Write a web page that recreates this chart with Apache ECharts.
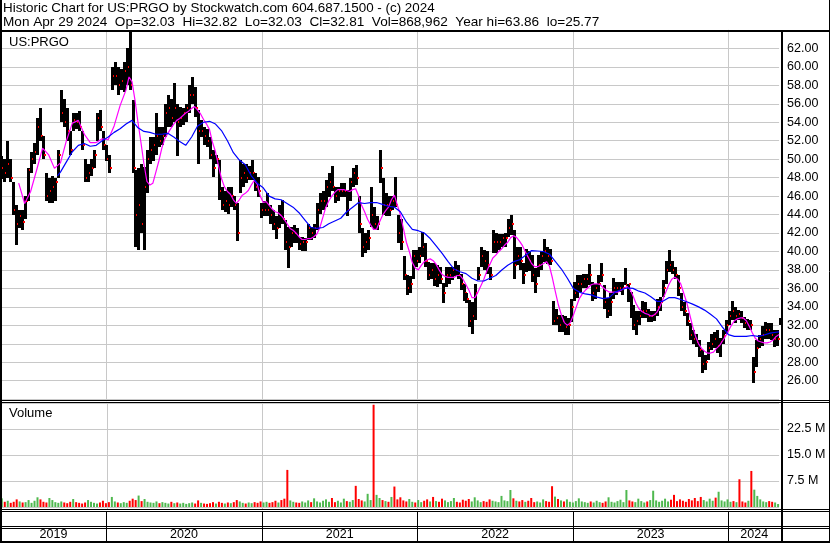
<!DOCTYPE html>
<html><head><meta charset="utf-8">
<script src="https://cdn.jsdelivr.net/npm/echarts@6/dist/echarts.min.js"></script>
<style>html,body{margin:0;padding:0;background:#fff}#c{width:830px;height:543px}</style>
</head><body><div id="c"></div>
<script>
// ---- data (weekly bars, week 0 = 2019-04-29) ----
const firstWeek = '2019-04-29';
const lastDay = '2024-04-29';
const highs = [
50.3,50,52,50,47.5,45,44.5,44.5,46,49,
50.8,51.7,54.5,55.5,52.5,48.5,48,48.2,48,51,
57.5,56.5,55.5,53,55,55,55.2,53,50,49.5,
50,51,55,55.3,53,51.5,50.5,60,60.5,60,
59.8,60.5,62,63.86,56.4,48.8,49,49.5,49.2,51,
52.4,52.4,55,53.5,53.5,56,57,56.5,58.2,56,
55.7,55.5,56,58,58.9,57.8,55.3,54.2,53.5,53.3,
52.4,51,50.5,49.9,47,46.5,47,47,46,45.2,
49.9,49.5,49.5,49.3,49.9,48.5,48.1,45.2,45.5,46.3,
45,44.5,43.8,45,45.6,43.4,42.7,42.7,42.9,42.5,
41.6,41.6,41.5,43,42.7,43,45.2,46.3,46.5,47.7,
48.5,49.3,47,47,47.4,47.4,46.7,48,49,49.4,
46,42.5,42,42.3,47,44.8,43.8,51,48,46.3,
46,46,48.1,44,43.5,39.5,37.5,37.3,40.2,40.2,
40.5,42.1,40.9,38.9,38.7,38.7,38.5,38.3,36.6,38.3,
38.3,38.3,39,38.5,37.6,36.5,35.5,34.7,34.5,36.5,
38.3,40.5,40.2,40,38.3,42.3,42,41.9,41.9,42,
43.5,43.9,42.3,40.5,40.5,38.7,40.3,40,39.6,38.2,
39.6,40,41.4,40.5,40.3,34.6,33.8,33.1,33.1,33,
32.8,34.9,36.7,37.4,37.4,37.6,37.6,38.6,36.7,36.5,
37.4,38.7,36.4,35,35.5,37.1,36.7,36.7,36.7,38.2,
36.5,35.6,34.2,33.5,33.5,34.6,34.5,33.8,33.5,33.5,
34.8,35.1,36.9,39,40.2,39,38.3,37.5,35.5,34.5,
33.3,32.2,31.5,31.1,30.4,29.3,28.8,30.2,31.1,31.3,
31.5,30.6,31.5,32.6,33.5,34.6,34,33.7,33.5,32.9,
32.7,32.6,28.6,30.4,31,31.9,32.4,32.2,32.2,31.5,
31.5,32.82];
const lows = [
47.8,47.5,48,47.5,44,40.7,42.5,42.3,43.5,45.5,
48.5,49.5,50.5,52,50,45.5,45.2,45.3,45.5,48,
54,53.5,52,50.5,53,53.3,53,51,47.5,47.5,
48.2,49,52,53,51,49.8,48.5,57.5,58,57,
57.5,57.3,58,57.5,48.5,40.5,40.2,42,40.2,46.3,
49.5,49.8,50.5,51.3,51.5,52.4,53.5,53.5,54,50.3,
53.5,53.7,54,55,56,54.6,49.5,52.4,51.5,51.3,
50,48.1,49.5,45.6,44.5,44.3,44.1,44.8,44.5,41.1,
46.3,47,47.4,47.7,47.7,46.5,45.9,43.6,43.8,43.8,
43,42.3,41.4,42.5,43,40.2,38.2,40.5,40.9,40.9,
40.2,40,40.1,41.2,41.2,41.5,42.3,44.1,44.5,44.8,
45.9,46.5,45.2,45.5,45.9,45.9,43.8,45.5,47,47.2,
42,39.4,39.8,40.2,42.7,42.3,42.3,47.4,44,43.8,
43.8,44.5,44.8,40.9,40.2,36.9,35.3,35.5,37,38.3,
38.7,39.4,38.3,36.9,37,36.3,36.2,36.5,34.4,36.2,
36.5,36.9,37.3,37,35.8,34.6,34.4,31.8,31.1,32.6,
36.9,38.3,38,37.6,36.9,39.8,39.8,40.2,40.5,40.5,
41.6,41.8,37,38.5,38,36.5,37.8,37.9,36.7,35.5,
37.2,38,38.9,38.6,38.5,32,32,31.3,31.3,31,
31,32.4,34.6,35,35.6,36,36,36.4,34.6,34.8,
35.6,36.7,33.8,32.8,33,34.9,35.3,35.6,35.3,36.4,
34.5,32.8,31.5,31,32,32.8,32.8,32.4,32.4,32.5,
33,33.5,35.1,36.5,37.8,37.6,37,35.2,33.5,33,
31.9,30.4,30,29.7,28.6,26.8,27.2,28.2,29.3,29.5,
29,28.6,30,31.1,32,32.6,32.2,32.6,32.3,31.7,
31.5,31.5,25.77,27.5,29.5,29.8,30.5,30.5,30.4,29.7,
29.8,32.03];
const closes = [
49,48.5,49.5,48,44.5,43,43.8,43.2,45.5,48.8,
50,50.8,53.5,52.5,50.5,46,46.5,47,47.5,50.5,
55,54,53,51,54.2,54,53.5,51.5,48,48.5,
49,50.5,54.5,53.5,51.5,50,49,59,59,58,
58.5,59.5,60,58,49,44,45,43,47,50,
51,51.5,52.5,52,52.5,55,55.5,54.5,55.5,54,
54.5,55,55.5,57,57,55.5,53,53,52.5,52,
50.5,49,50,46.5,45,45.5,45,46,45,42,
48,48.5,48,48.5,48.5,47,46.5,44.5,44.5,44.5,
44,43,42.5,44,43.5,41,40.5,42,42,41.5,
40.8,41,41,42.5,42,42.5,44.5,45.5,45.5,47,
47.5,47,46,46.5,46.5,46.5,44.5,47.5,48.5,48,
43,40.5,41,41.5,44,43,43,49,45,45,
44.5,45.5,45,42,41,37.5,36,36.5,39.5,39,
39.5,40.5,39,37.5,38,37,37.5,37,35.5,37.5,
37.5,38,38,37.5,36.5,35.5,34.8,32.5,33,35.5,
37.5,39.5,39,38.5,37.5,41,41,41,41.5,41.5,
42.5,43,38.5,39.5,39,37.5,39.5,39,37.5,36.5,
38.5,39.5,40,39.5,39,32.5,32.8,32,32.5,31.8,
32,34,35.5,36.5,36.5,37,37,37.5,35.5,36,
36.5,37.5,34.5,33.5,34.5,36,36,36,36,36.4,
36.5,33.5,32,32.5,33,33.5,33.5,33,33,33.2,
34,34.5,36,38,38.5,38,37.5,36,34,33.5,
32.5,31,30.5,30.2,29.3,27.8,28,29.5,30,30.5,
29.8,30.2,30.8,32,33,33.5,33,33.2,32.8,32.2,
32,32,27,29.5,30.5,31,31.5,31.5,31,30.5,
30.5,32.81];
// volume, millions of shares
const volumes = [
2.5,1.5,1.8,1.2,1.5,2.2,1.6,1.3,1.4,2.0,
1.2,1.8,2.8,2.2,1.5,1.3,2.6,2.0,1.4,1.2,
1.6,1.3,1.1,1.5,2.3,1.4,1.2,1.0,1.3,2.0,
1.5,1.2,1.0,1.3,1.8,1.1,1.4,2.9,1.6,1.3,
1.1,1.4,1.2,1.8,2.4,2.0,3.3,1.7,2.3,1.5,
1.3,1.2,1.6,1.1,1.4,1.2,1.0,1.5,1.1,1.3,
1.0,1.2,0.9,1.1,1.3,1.0,1.9,1.2,1.0,0.9,
1.1,1.4,1.0,1.5,1.2,1.0,1.3,1.1,1.4,2.0,
1.6,1.2,1.0,1.3,1.1,1.4,1.2,1.6,1.3,1.5,
1.2,1.4,1.8,1.3,2.0,2.4,10.7,1.9,1.5,1.3,
1.2,1.6,1.3,1.9,1.4,2.5,1.6,1.3,1.8,2.2,
1.5,2.6,1.4,1.8,1.3,2.4,1.7,1.5,2.0,6.1,
2.3,1.9,1.6,3.8,2.0,29.5,3.5,2.6,2.0,1.7,
1.5,2.9,5.9,2.2,2.8,1.9,1.6,2.3,1.5,1.3,
2.0,1.4,1.8,2.2,1.6,2.9,1.7,1.5,2.4,1.9,
1.4,1.7,2.6,1.5,1.3,2.1,1.8,2.3,1.6,2.8,
1.9,1.4,1.7,1.5,2.2,1.8,1.6,1.4,3.2,1.9,
1.7,4.9,2.5,1.8,1.6,2.0,1.5,1.8,2.6,1.4,
1.6,1.3,2.2,1.7,1.5,6.0,3.0,2.3,1.9,1.6,
2.2,1.5,1.3,1.7,2.5,1.6,1.4,1.2,1.6,1.3,
1.8,1.4,1.2,1.6,2.8,1.5,1.3,1.7,2.1,1.4,
4.9,1.9,1.6,1.4,2.4,1.7,1.3,1.6,2.0,4.7,
1.9,1.5,1.8,2.4,1.6,2.1,3.5,1.7,2.2,1.8,
1.5,2.3,1.9,2.6,1.7,2.9,2.0,1.6,2.4,1.8,
2.7,4.4,1.9,1.6,2.2,1.5,1.7,1.4,8.0,1.6,
1.3,1.8,10.4,5.0,3.2,2.2,1.6,1.4,1.7,1.5,
1.3,0.87];
// moving averages: [week index, value]
const maShort = [[6,47.4],[8,45.2],[10,46.5],[12,48.8],[14,51.2],[16,50.5],[18,49],[20,49.6],[22,52],[24,53.9],[26,54.2],[28,52.7],[30,51.8],[32,51.8],[34,52.2],[36,52.1],[38,53.6],[40,55.8],[42,57.5],[43,58.9],[44,58.4],[45,56.4],[46,54],[47,51.8],[48,49.5],[49,47.6],[50,47.2],[51,47.4],[52,48.6],[53,49.8],[54,51.2],[55,52.2],[56,52.8],[57,53.3],[58,53.8],[59,54.2],[60,54.4],[61,54.7],[62,55],[63,55.2],[64,55.5],[65,55.7],[66,55.3],[67,54.9],[68,54.3],[69,53.8],[70,53.2],[71,51.8],[72,50.8],[73,49.3],[74,47.9],[75,47],[76,46.5],[77,46.2],[78,45.6],[79,45.2],[80,45.6],[81,46.1],[82,46.3],[83,46.6],[84,47.2],[85,47.7],[86,47.3],[87,46],[88,45.3],[89,45.4],[90,45],[91,44.6],[92,44.3],[93,44.2],[94,43.9],[95,43.5],[96,43],[97,42.5],[98,42.3],[99,42],[100,41.6],[101,41.3],[102,41.3],[103,41.4],[104,41.4],[105,41.6],[106,41.9],[107,42.6],[108,43.7],[109,44.8],[110,45.5],[111,46],[112,46.4],[113,46.7],[114,46.7],[115,46.7],[116,46.6],[117,46.5],[118,46.7],[119,46.8],[120,46],[121,45],[122,44.3],[123,43.5],[124,42.9],[125,42.4],[126,42.4],[127,43.2],[128,43.9],[129,44.4],[130,44.8],[131,45.6],[132,46.1],[133,45],[134,44],[135,42.5],[136,41],[137,40],[138,38.8],[139,38.2],[140,38],[141,38.5],[142,38.9],[143,39.1],[144,39.2],[145,39],[146,38.6],[147,38],[148,37.5],[149,37.3],[150,37.2],[151,37.2],[152,37.2],[153,37.4],[154,37.4],[155,37],[156,36.4],[157,35.8],[158,35],[159,35],[160,35.6],[161,36.3],[162,37],[163,37.9],[164,38.6],[165,39.3],[166,39.6],[167,40],[168,40.3],[169,40.7],[170,41],[171,41.5],[172,41.7],[173,41.5],[174,41.1],[175,40.6],[176,39.9],[177,39.3],[178,38.7],[179,38.35],[180,38.35],[181,38.5],[182,38.7],[183,38.9],[184,38.4],[185,37.1],[186,35.6],[187,34.2],[188,33.1],[189,32.3],[190,32],[191,32.3],[192,33.1],[193,34],[194,34.9],[195,35.4],[196,35.8],[197,36.1],[198,36.4],[199,36.5],[200,36.5],[201,36.4],[202,36.1],[203,35.8],[204,35.6],[205,35.6],[206,35.6],[207,35.6],[208,35.8],[209,36],[210,36.2],[211,35.9],[212,35.2],[213,34.4],[214,33.8],[215,33.5],[216,33.3],[217,33.2],[218,33],[219,33.1],[220,33.4],[221,34],[222,34.8],[223,35.6],[224,36.4],[225,37],[226,37.2],[227,37],[228,36.5],[229,35.5],[230,34.5],[231,33.2],[232,31.9],[233,30.8],[234,30],[235,29.5],[236,29.2],[237,29],[238,29],[239,29.1],[240,29.5],[241,29.8],[242,30.3],[243,30.8],[244,31.4],[245,32],[246,32.5],[247,32.7],[248,32.8],[249,32.8],[250,32.5],[251,31.9],[252,31.2],[253,30.6],[254,30.3],[255,30.2],[256,30.1],[257,30.1],[258,30.2],[259,30.4],[260,30.8],[261,31]];
const maLong = [[19,48.2],[20,48.6],[22,49.7],[24,50.8],[26,51.5],[28,51.7],[30,51.4],[32,51.5],[34,52],[36,52.4],[38,52.9],[40,53.3],[42,53.8],[44,54.2],[46,53.4],[48,53],[50,52.9],[52,52.7],[54,52.7],[56,52.8],[58,52.4],[60,51.9],[62,51.5],[64,52.4],[66,53.6],[68,54],[70,54.1],[72,53.8],[74,53.1],[76,52],[78,50.7],[80,49.9],[82,49.4],[84,48.2],[86,47.4],[88,46.9],[90,46],[92,45.7],[94,45.6],[96,45.2],[98,44.8],[100,44.2],[102,43.4],[104,42.6],[106,42.5],[108,42.6],[110,43],[112,43.3],[114,43.6],[116,44.3],[118,44.8],[120,45.3],[122,45.2],[124,45.3],[126,45.3],[128,45.1],[130,44.9],[132,44.8],[134,44.3],[136,43.2],[138,42.4],[140,42.25],[142,42],[144,41.4],[146,40.6],[148,39.8],[150,38.9],[152,38.1],[154,37.8],[156,37.6],[158,37.1],[160,36.8],[162,36.8],[164,37.1],[166,37.4],[168,38],[170,38.5],[172,38.9],[174,39.1],[176,39.6],[178,40.1],[180,40.05],[182,40],[184,39.7],[186,38.9],[188,38.1],[190,37.1],[192,36],[194,35.6],[196,35.4],[198,35.3],[200,35.05],[202,34.9],[204,35],[206,35.6],[208,35.85],[210,36.05],[212,36],[214,35.7],[216,35.5],[218,35.1],[220,34.6],[222,34.6],[224,35],[226,35],[228,34.8],[230,34.55],[232,34.3],[234,34],[236,33.65],[238,33.2],[240,32.7],[242,31.8],[244,31],[246,30.8],[248,30.8],[250,30.8],[252,30.9],[254,30.8],[256,30.95],[258,31.15],[260,31.25],[261,31.3]];
const yearLabels = ['2019','2020','2021','2022','2023','2024'];
const yearStarts = ['2019-04-29','2020-01-01','2021-01-01','2022-01-01','2023-01-01','2024-01-01'];
const titleLine1 = 'Historic Chart for US:PRGO by Stockwatch.com 604.687.1500 - (c) 2024';
const titleLine2 = 'Mon Apr 29 2024  Op=32.03  Hi=32.82  Lo=32.03  Cl=32.81  Vol=868,962  Year hi=63.86  lo=25.77';
const symbolName = 'US:PRGO';

// ---- build ----
const DAY = 86400000;
const ts = s => { const p = s.split('-').map(Number); return Date.UTC(p[0], p[1]-1, p[2]); };
const t0 = ts(firstWeek), tEnd = ts(lastDay);
const weekTs = i => t0 + i * 7 * DAY;
const priceData = highs.map((h, i) => [weekTs(i), h, lows[i], closes[i]]);
const volData = volumes.map((v, i) => ({
  value: [weekTs(i), v],
  itemStyle: { color: (i === 0 || closes[i] >= closes[i-1]) ? '#4fb84f' : '#ff0000' }
}));
const maS = maShort.map(p => [weekTs(p[0]), p[1]]);
const maL = maLong.map(p => [weekTs(p[0]), p[1]]);
const yearBounds = yearStarts.slice(1).map(s => [ts(s), 0]);
const yearSpans = yearStarts.map((s, i) => [ts(s), i + 1 < yearStarts.length ? ts(yearStarts[i+1]) : tEnd + 2 * DAY, yearLabels[i]]);

const FONT = '"Liberation Sans", Arial, sans-serif';
const GRID_L = 0.8, GRID_W = 778.3;

function gridLinesRender(params, api) {
  const cs = params.coordSys;
  const x = Math.round(api.coord([api.value(0), 0])[0]) + 0.5;
  return { type: 'line', shape: { x1: x, y1: cs.y, x2: x, y2: cs.y + cs.height + 2 },
           style: { stroke: '#c8c8c8', lineWidth: 1 }, silent: true };
}

const chart = echarts.init(document.getElementById('c'), null, { renderer: 'canvas' });
chart.setOption({
  animation: false,
  backgroundColor: '#fff',
  grid: [
    { left: GRID_L, width: GRID_W, top: 29.9, height: 369.3 },
    { left: GRID_L, width: GRID_W, top: 403, height: 104 },
    { left: GRID_L, width: GRID_W, top: 511, height: 31 }
  ],
  xAxis: [0, 1, 2].map(g => ({ type: 'time', gridIndex: g, min: t0, max: tEnd, show: false })),
  yAxis: [
    { gridIndex: 0, position: 'right', min: 24, max: 64, interval: 2,
      axisLine: { show: false }, axisTick: { show: false },
      splitLine: { lineStyle: { color: '#c8c8c8', width: 1 } },
      axisLabel: { margin: 8, color: '#000', fontFamily: FONT, fontSize: 12.5,
        formatter: v => (v <= 24 || v >= 64) ? '' : v.toFixed(2) } },
    { gridIndex: 1, position: 'right', min: 0, max: 30, interval: 7.5,
      axisLine: { show: false }, axisTick: { show: false },
      splitLine: { lineStyle: { color: '#c8c8c8', width: 1 } },
      axisLabel: { margin: 8, color: '#000', fontFamily: FONT, fontSize: 12.5,
        formatter: v => (v <= 0 || v >= 30) ? '' : v.toFixed(1) + ' M' } },
    { gridIndex: 2, min: 0, max: 1, show: false }
  ],
  series: [
    { type: 'custom', xAxisIndex: 0, yAxisIndex: 0, z: 1, silent: true, data: yearBounds, renderItem: gridLinesRender },
    { type: 'custom', xAxisIndex: 0, yAxisIndex: 0, z: 3, silent: true, data: priceData,
      encode: { x: 0, y: [1, 2] },
      renderItem(params, api) {
        const t = api.value(0);
        const pH = api.coord([t, api.value(1)]);
        const pL = api.coord([t, api.value(2)]);
        const pC = api.coord([t, api.value(3)]);
        const x = Math.floor(pH[0]);
        return { type: 'group', children: [
          { type: 'rect', shape: { x: x, y: Math.round(pH[1]), width: 3, height: Math.max(1, Math.round(pL[1]) - Math.round(pH[1])) }, style: { fill: '#000' } },
          { type: 'rect', shape: { x: x + 2, y: Math.round(pC[1]) - 1, width: 2, height: 2 }, style: { fill: '#ff0000' } }
        ]};
      } },
    { type: 'line', xAxisIndex: 0, yAxisIndex: 0, z: 4, data: maS, showSymbol: false, smooth: false,
      lineStyle: { color: '#ff00ff', width: 1.2 }, silent: true },
    { type: 'line', xAxisIndex: 0, yAxisIndex: 0, z: 5, data: maL, showSymbol: false,
      lineStyle: { color: '#0000ff', width: 1.2 }, silent: true },
    { type: 'custom', xAxisIndex: 1, yAxisIndex: 1, z: 1, silent: true, data: yearBounds, renderItem: gridLinesRender },
    { type: 'bar', xAxisIndex: 1, yAxisIndex: 1, z: 3, data: volData, barWidth: 2, silent: true },
    { type: 'custom', xAxisIndex: 2, yAxisIndex: 2, z: 3, silent: true, data: yearSpans,
      encode: { x: [0, 1] },
      renderItem(params, api) {
        const cs = params.coordSys;
        const x1 = api.coord([api.value(0), 0])[0];
        const x2 = Math.min(api.coord([api.value(1), 0])[0], cs.x + cs.width + 2);
        const children = [
          { type: 'text', x: (Math.max(x1, 1) + x2) / 2, y: 535,
            style: { text: yearLabels[params.dataIndex], fill: '#000', font: '12.5px ' + FONT, align: 'center', verticalAlign: 'middle' } }
        ];
        if (params.dataIndex > 0) {
          const xl = Math.round(x1) + 0.5;
          children.push({ type: 'line', shape: { x1: xl, y1: cs.y, x2: xl, y2: cs.y + cs.height }, style: { stroke: '#000', lineWidth: 1 } });
        }
        return { type: 'group', children };
      } }
  ],
  graphic: [
    { type: 'text', x: 3, y: 8, style: { text: titleLine1, fill: '#000', font: '13.4px ' + FONT, verticalAlign: 'middle' } },
    { type: 'text', x: 3, y: 22, style: { text: titleLine2, fill: '#000', font: '13.6px ' + FONT, verticalAlign: 'middle' } },
    { type: 'text', x: 9, y: 42, z: 10, style: { text: symbolName, fill: '#000', font: '13px ' + FONT, verticalAlign: 'middle' } },
    { type: 'text', x: 9, y: 413, z: 10, style: { text: 'Volume', fill: '#000', font: '13px ' + FONT, verticalAlign: 'middle' } },
    // frame
    { type: 'line', z: 20, shape: { x1: 0, y1: 31, x2: 830, y2: 31 }, style: { stroke: '#000', lineWidth: 2 } },
    { type: 'line', z: 20, shape: { x1: 0, y1: 400.5, x2: 830, y2: 400.5 }, style: { stroke: '#000', lineWidth: 1 } },
    { type: 'line', z: 20, shape: { x1: 0, y1: 402.5, x2: 830, y2: 402.5 }, style: { stroke: '#000', lineWidth: 1 } },
    { type: 'line', z: 20, shape: { x1: 0, y1: 509.5, x2: 830, y2: 509.5 }, style: { stroke: '#000', lineWidth: 1 } },
    { type: 'line', z: 20, shape: { x1: 0, y1: 511.5, x2: 830, y2: 511.5 }, style: { stroke: '#000', lineWidth: 1 } },
    { type: 'line', z: 20, shape: { x1: 0, y1: 526.5, x2: 830, y2: 526.5 }, style: { stroke: '#000', lineWidth: 1 } },
    { type: 'line', z: 20, shape: { x1: 0, y1: 528.5, x2: 830, y2: 528.5 }, style: { stroke: '#000', lineWidth: 1 } },
    { type: 'line', z: 20, shape: { x1: 0, y1: 542, x2: 830, y2: 542 }, style: { stroke: '#000', lineWidth: 2 } },
    { type: 'line', z: 20, shape: { x1: 1, y1: 0, x2: 1, y2: 543 }, style: { stroke: '#000', lineWidth: 2 } },
    { type: 'line', z: 20, shape: { x1: 782, y1: 30, x2: 782, y2: 543 }, style: { stroke: '#000', lineWidth: 2 } },
    { type: 'line', z: 20, shape: { x1: 829.5, y1: 0, x2: 829.5, y2: 543 }, style: { stroke: '#000', lineWidth: 1 } }
  ]
});
</script></body></html>
